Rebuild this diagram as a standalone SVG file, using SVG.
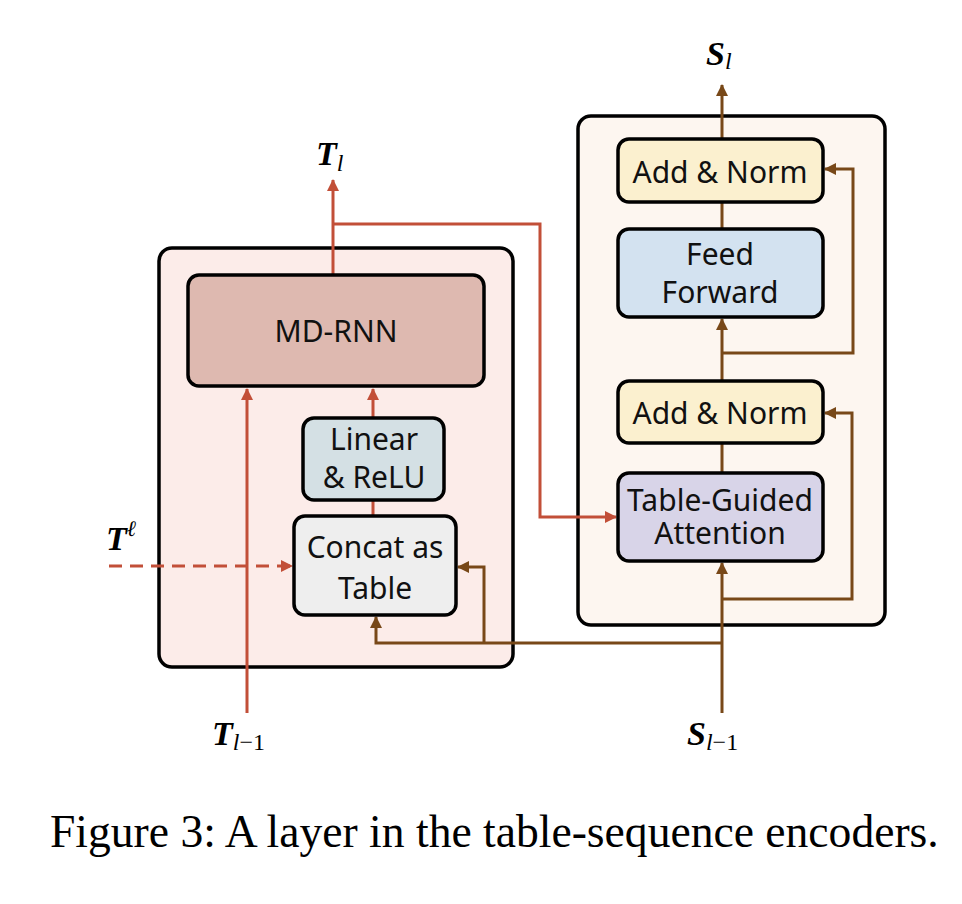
<svg xmlns="http://www.w3.org/2000/svg" width="962" height="904" viewBox="0 0 962 904">
<style>
.frame{stroke:#000;stroke-width:3.5}
.node{stroke:#000;stroke-width:3.5}
.lbl{font-family:"Noto Sans","Open Sans","DejaVu Sans",sans-serif;font-size:30px;fill:#111;text-anchor:middle}
.red{fill:none;stroke:#c24f38;stroke-width:3}
.brown{fill:none;stroke:#784818;stroke-width:3}
.math{font-family:"Liberation Serif","Times New Roman",serif;fill:#000}
.cap{font-family:"Liberation Serif","Times New Roman",serif;font-size:45.6px;fill:#000}
</style>
<defs>
<marker id="ar" markerUnits="userSpaceOnUse" markerWidth="12" markerHeight="12" refX="11" refY="6" orient="auto" viewBox="0 0 12 12">
<path d="M0,0 L12,6 L0,12 z" fill="#c24f38"/>
</marker>
<marker id="ab" markerUnits="userSpaceOnUse" markerWidth="12" markerHeight="12" refX="11" refY="6" orient="auto" viewBox="0 0 12 12">
<path d="M0,0 L12,6 L0,12 z" fill="#784818"/>
</marker>
</defs>
<rect width="962" height="904" fill="#fff"/>

<g id="table-encoder">
<rect class="frame" x="159" y="248" width="354" height="419" rx="13" fill="#fcece9"/>
</g>
<g id="sequence-encoder">
<rect class="frame" x="578" y="116" width="307" height="509" rx="13" fill="#fdf6f0"/>
</g>

<g id="connectors">
<path class="red" d="M333,275 V180" marker-end="url(#ar)"/>
<path class="red" d="M333,224 H540 V517 H616" marker-end="url(#ar)"/>
<path class="red" d="M247,713 V389" marker-end="url(#ar)"/>
<path class="red" d="M373,418 V389" marker-end="url(#ar)"/>
<path class="red" d="M373,516 V500"/>
<path class="red" d="M109,566 H292" stroke-dasharray="13,8" marker-end="url(#ar)"/>
<path class="brown" d="M722,713 V563" marker-end="url(#ab)"/>
<path class="brown" d="M722,643 H376 V617" marker-end="url(#ab)"/>
<path class="brown" d="M484,643 V567 H458" marker-end="url(#ab)"/>
<path class="brown" d="M722,599 H852 V413 H825" marker-end="url(#ab)"/>
<path class="brown" d="M722,473 V443"/>
<path class="brown" d="M722,381 V319" marker-end="url(#ab)"/>
<path class="brown" d="M722,353 H853 V169 H825" marker-end="url(#ab)"/>
<path class="brown" d="M722,229 V202"/>
<path class="brown" d="M722,139 V85" marker-end="url(#ab)"/>
</g>

<g id="md-rnn">
<rect class="node" x="188" y="275" width="296" height="111" rx="11" fill="#deb9b0"/>
<text class="lbl" x="336" y="342">MD-RNN</text>
</g>
<g id="linear-relu">
<rect class="node" x="303" y="418" width="141" height="82" rx="11" fill="#d4e0e4"/>
<text class="lbl" x="374" y="450">Linear</text>
<text class="lbl" x="374" y="488">&amp; ReLU</text>
</g>
<g id="concat-table">
<rect class="node" x="294" y="516" width="162" height="99" rx="11" fill="#eeeeee"/>
<text class="lbl" x="375" y="558">Concat as</text>
<text class="lbl" x="375" y="599">Table</text>
</g>
<g id="add-norm-2">
<rect class="node" x="618" y="139" width="205" height="63" rx="11" fill="#fbf0cf"/>
<text class="lbl" x="720" y="183">Add &amp; Norm</text>
</g>
<g id="feed-forward">
<rect class="node" x="618" y="229" width="205" height="88" rx="11" fill="#d3e2f0"/>
<text class="lbl" x="720" y="265">Feed</text>
<text class="lbl" x="720" y="303">Forward</text>
</g>
<g id="add-norm-1">
<rect class="node" x="618" y="381" width="205" height="62" rx="11" fill="#fbf0cf"/>
<text class="lbl" x="720" y="424">Add &amp; Norm</text>
</g>
<g id="table-guided-attention">
<rect class="node" x="618" y="473" width="205" height="88" rx="11" fill="#d8d4e8"/>
<text class="lbl" x="720" y="511">Table-Guided</text>
<text class="lbl" x="720" y="544">Attention</text>
</g>

<g id="labels">
<text class="math" x="316" y="165" font-size="34" font-weight="bold" font-style="italic">T<tspan font-size="24" font-weight="normal" dy="6">l</tspan></text>
<text class="math" x="706" y="65" font-size="34" font-weight="bold" font-style="italic">S<tspan font-size="24" font-weight="normal" dy="4">l</tspan></text>
<text class="math" x="212" y="745" font-size="34" font-weight="bold" font-style="italic">T<tspan font-size="24" font-weight="normal" dy="5">l</tspan><tspan font-size="24" font-weight="normal" font-style="normal">−1</tspan></text>
<text class="math" x="687" y="745" font-size="34" font-weight="bold" font-style="italic">S<tspan font-size="24" font-weight="normal" dy="5">l</tspan><tspan font-size="24" font-weight="normal" font-style="normal">−1</tspan></text>
<text class="math" x="106" y="550" font-size="34" font-weight="bold" font-style="italic">T<tspan font-size="22" font-weight="normal" dy="-14">ℓ</tspan></text>
</g>

<text class="cap" x="50" y="847">Figure 3: A layer in the table-sequence encoders.</text>
</svg>
